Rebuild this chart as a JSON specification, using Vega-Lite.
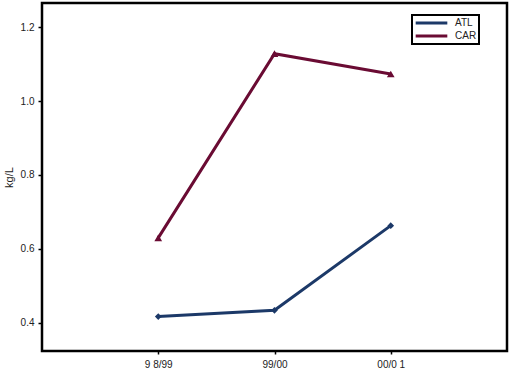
{
  "$schema": "https://vega.github.io/schema/vega-lite/v6.json",
  "width": 465,
  "height": 348,
  "autosize": {"type": "none"},
  "padding": {"left": 42, "top": 3, "right": 4, "bottom": 19},
  "background": "white",
  "config": {
    "view": {"stroke": "black", "strokeWidth": 2.5},
    "font": "Liberation Sans",
    "axis": {"grid": false, "domainColor": "black", "domainWidth": 2.5, "tickColor": "black", "tickWidth": 1.5, "labelFont": "Liberation Sans", "labelFontSize": 10, "labelColor": "#222", "titleFont": "Liberation Sans", "titleFontWeight": "normal", "titleFontSize": 11, "titleColor": "#222"}
  },
  "data": {
    "values": [
      {"season": "9 8/99", "series": "ATL", "marker": "a", "value": 0.417},
      {"season": "99/00", "series": "ATL", "marker": "a", "value": 0.434},
      {"season": "00/0 1", "series": "ATL", "marker": "a", "value": 0.663},
      {"season": "9 8/99", "series": "CAR", "marker": "c", "value": 0.63},
      {"season": "99/00", "series": "CAR", "marker": "c", "value": 1.128},
      {"season": "00/0 1", "series": "CAR", "marker": "c", "value": 1.073}
    ]
  },
  "encoding": {
    "x": {
      "field": "season", "type": "ordinal", "sort": ["9 8/99", "99/00", "00/0 1"],
      "scale": {"type": "point", "padding": 1},
      "axis": {"title": null, "labelAngle": 0, "tickSize": 3, "labelPadding": 5, "domain": false}
    },
    "y": {
      "field": "value", "type": "quantitative",
      "scale": {"domain": [0.324, 1.265], "nice": false, "zero": false},
      "axis": {"title": "kg/L", "values": [0.4, 0.6, 0.8, 1.0, 1.2], "format": ".1f", "tickSize": 4, "labelPadding": 4, "titlePadding": 6, "domain": false}
    }
  },
  "resolve": {"scale": {"color": "independent"}, "legend": {"color": "independent"}},
  "layer": [
    {
      "mark": {"type": "line", "strokeWidth": 3},
      "encoding": {
        "color": {
          "field": "series", "type": "nominal",
          "scale": {"domain": ["ATL", "CAR"], "range": ["#1c3968", "#6a0b33"]},
          "legend": {
            "title": null, "orient": "none", "legendX": 370, "legendY": 12,
            "symbolType": "stroke", "symbolStrokeWidth": 3, "symbolSize": 1000,
            "clipHeight": 12,
            "strokeColor": "black", "padding": 2,
            "labelFont": "Liberation Sans", "labelFontSize": 10, "labelColor": "#222",
            "rowPadding": 1, "fillColor": "white", "labelOffset": 6,
            "encode": {"legend": {"update": {"strokeWidth": {"value": 2}}}}
          }
        }
      }
    },
    {
      "mark": {"type": "point", "filled": true, "opacity": 1},
      "encoding": {
        "color": {"field": "marker", "type": "nominal", "scale": {"domain": ["a", "c"], "range": ["#1c3968", "#6a0b33"]}, "legend": null},
        "shape": {"field": "marker", "type": "nominal", "scale": {"domain": ["a", "c"], "range": ["diamond", "triangle-up"]}, "legend": null},
        "size": {"field": "marker", "type": "nominal", "scale": {"domain": ["a", "c"], "range": [45, 60]}, "legend": null}
      }
    }
  ]
}
